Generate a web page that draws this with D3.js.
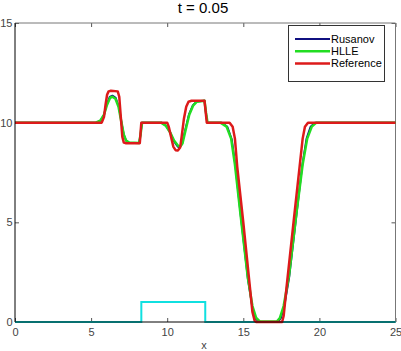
<!DOCTYPE html>
<html>
<head>
<meta charset="utf-8">
<script src="https://cdn.jsdelivr.net/npm/d3@7"></script>
<style>
  body { margin: 0; background: #fff; }
  text { font-family: "Liberation Sans", Arial, sans-serif; }
</style>
</head>
<body>
<div id="chart-area"></div>
<script>
// water depth h(x) at t = 0.05
const refX = [0, 5.7, 5.85, 5.95, 6.05, 6.15, 6.3, 6.75, 6.85, 6.95, 7.05, 7.15, 7.3, 8.2, 8.25, 8.3,
  10.0, 10.1, 10.25, 10.4, 10.55, 10.7, 10.85, 10.95, 11.1, 11.25, 11.4, 11.6, 12.45, 12.52, 12.6,
  14.1, 14.3, 14.45, 14.6, 15.0, 15.4, 15.6, 15.75, 15.85, 17.55, 17.65, 17.85, 18.3, 18.7, 18.9, 19.05, 19.25, 25]
const refH = [10, 10, 10.3, 10.9, 11.4, 11.57, 11.6, 11.57, 11.3, 10.3, 9.3, 9.0, 8.97, 8.97, 9.5, 10,
  10, 9.8, 9.3, 8.8, 8.62, 8.6, 8.75, 9.3, 10.2, 10.8, 11.05, 11.1, 11.1, 10.6, 10,
  10, 9.8, 9.2, 7.8, 5.0, 2.0, 0.5, 0.05, 0, 0, 0.3, 1.8, 5.0, 7.8, 9.2, 9.8, 10, 10]

const hlleX = [0, 5.3, 5.6, 5.85, 6.05, 6.25, 6.4, 6.6, 6.8, 7.0, 7.15, 7.3, 7.5, 8.15, 8.25, 8.35,
  9.6, 9.9, 10.2, 10.45, 10.7, 10.85, 11.0, 11.2, 11.45, 11.7, 11.95, 12.45, 12.55, 12.65,
  13.5, 13.9, 14.2, 14.45, 14.8, 15.3, 15.6, 15.85, 16.1, 17.2, 17.4, 17.65, 18.0, 18.5, 18.9, 19.2, 19.5, 19.8, 25]
const hlleH = [10, 10, 10.1, 10.4, 10.9, 11.25, 11.3, 11.2, 10.8, 10.0, 9.4, 9.1, 9.0, 8.98, 9.4, 10,
  10, 9.85, 9.5, 9.1, 8.85, 8.8, 8.95, 9.6, 10.4, 10.85, 11.05, 11.1, 10.5, 10,
  10, 9.8, 9.2, 7.9, 5.5, 2.2, 0.8, 0.2, 0.02, 0.02, 0.2, 0.8, 2.3, 5.5, 7.9, 9.2, 9.8, 10, 10]

const rusX = [0, 5.35, 5.62, 5.85, 6.02, 6.22, 6.4, 6.62, 6.82, 7.0, 7.15, 7.3, 7.48, 8.15, 8.25, 8.34,
  9.65, 9.92, 10.2, 10.45, 10.68, 10.82, 10.97, 11.17, 11.42, 11.68, 11.92, 12.45, 12.54, 12.63,
  13.6, 13.95, 14.25, 14.47, 14.82, 15.3, 15.6, 15.82, 16.05, 17.28, 17.48, 17.7, 18.02, 18.5, 18.88, 19.15, 19.42, 19.7, 25]
const rusH = [10, 10, 10.1, 10.4, 10.9, 11.3, 11.36, 11.25, 10.8, 10.0, 9.4, 9.1, 9.0, 8.98, 9.4, 10,
  10, 9.85, 9.5, 9.05, 8.8, 8.76, 8.92, 9.6, 10.4, 10.87, 11.06, 11.1, 10.5, 10,
  10, 9.8, 9.15, 7.9, 5.4, 2.15, 0.7, 0.15, 0.01, 0.01, 0.2, 0.8, 2.25, 5.4, 7.9, 9.2, 9.8, 10, 10]

// bottom topography
const bedX = [0, 8.3, 8.3, 12.5, 12.5, 25]
const bedZ = [0, 0, 1, 1, 0, 0]

const xTicks = [0, 5, 10, 15, 20, 25]
const yTicks = [0, 5, 10, 15]
const legendNames = ["Rusanov", "HLLE", "Reference"]

const MARGIN = { left: 15, right: 5.5, top: 23, bottom: 29 }
const WIDTH = 401 - MARGIN.left - MARGIN.right
const HEIGHT = 351 - MARGIN.top - MARGIN.bottom

const svg = d3.select("#chart-area").append("svg")
    .attr("width", 401)
    .attr("height", 351)

const g = svg.append("g")
    .attr("transform", `translate(${MARGIN.left}, ${MARGIN.top})`)

const x = d3.scaleLinear().domain([0, 25]).range([0, WIDTH])
const y = d3.scaleLinear().domain([0, 15]).range([HEIGHT, 0])

// title and x label
svg.append("text")
    .attr("x", 203)
    .attr("y", 13)
    .attr("font-size", "15px")
    .attr("text-anchor", "middle")
    .text("t = 0.05")

svg.append("text")
    .attr("x", 204)
    .attr("y", 349)
    .attr("font-size", "11px")
    .attr("fill", "#444")
    .attr("text-anchor", "middle")
    .text("x")

// axes with inward ticks
const xAxisCall = d3.axisBottom(x).tickValues(xTicks).tickSize(-4).tickPadding(6)
g.append("g")
    .attr("class", "x axis")
    .attr("transform", `translate(0, ${HEIGHT})`)
    .call(xAxisCall)

const yAxisCall = d3.axisLeft(y).tickValues(yTicks).tickSize(-4).tickPadding(2.5)
g.append("g")
    .attr("class", "y axis")
    .call(yAxisCall)

g.append("g")
    .call(d3.axisTop(x).tickValues(xTicks).tickSize(-4).tickFormat(""))
g.append("g")
    .attr("transform", `translate(${WIDTH}, 0)`)
    .call(d3.axisRight(y).tickValues(yTicks).tickSize(-4).tickFormat(""))

g.selectAll(".domain").remove()
g.selectAll(".tick line").attr("stroke", "#555")
g.selectAll(".tick text")
    .attr("font-size", "11px")
    .attr("fill", "#444")
    .attr("font-family", "Liberation Sans, Arial, sans-serif")

// frame
g.append("line").attr("x1", 0).attr("x2", WIDTH).attr("y1", 0).attr("y2", 0).attr("stroke", "#777")
g.append("line").attr("x1", WIDTH).attr("x2", WIDTH).attr("y1", 0).attr("y2", HEIGHT).attr("stroke", "#777")

const plot = g.append("g")

const line = d3.line()
    .x(d => x(d[0]))
    .y(d => y(d[1]))

plot.append("path")
    .datum(d3.zip(bedX, bedZ))
    .attr("fill", "none")
    .attr("stroke", "#10e0e0")
    .attr("stroke-width", 2)
    .attr("d", line)

const series = [
    { xs: rusX, ys: rusH, color: "#101080", w: 1.8 },
    { xs: hlleX, ys: hlleH, color: "#22dd22", w: 2.5 },
    { xs: refX, ys: refH, color: "#dd1a1a", w: 2.5 }
]

series.forEach(s => {
    plot.append("path")
        .datum(d3.zip(s.xs, s.ys))
        .attr("fill", "none")
        .attr("stroke", s.color)
        .attr("stroke-width", s.w)
        .attr("stroke-linejoin", "round")
        .attr("d", line)
})

g.append("line").attr("x1", 0).attr("x2", 0).attr("y1", 0).attr("y2", HEIGHT).attr("stroke", "#000")
g.append("line").attr("x1", 0).attr("x2", WIDTH).attr("y1", HEIGHT).attr("y2", HEIGHT).attr("stroke", "#000")

// legend
const legend = svg.append("g")
legend.append("rect")
    .attr("x", 288.5)
    .attr("y", 25.5)
    .attr("width", 96)
    .attr("height", 56)
    .attr("fill", "#fff")
    .attr("stroke", "#333")

legendNames.forEach((name, i) => {
    const ly = 39 + i * 12.2
    legend.append("line")
        .attr("x1", 295).attr("x2", 330)
        .attr("y1", ly).attr("y2", ly)
        .attr("stroke", series[i].color)
        .attr("stroke-width", series[i].w)
    legend.append("text")
        .attr("x", 331)
        .attr("y", ly + 4)
        .attr("font-size", "11px")
        .text(name)
})
</script>
</body>
</html>
